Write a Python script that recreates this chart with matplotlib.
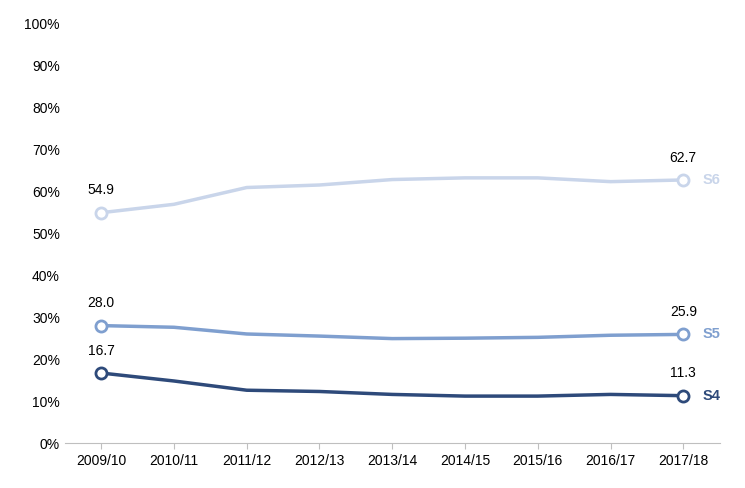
import matplotlib.pyplot as plt

years = ["2009/10","2010/11","2011/12","2012/13","2013/14","2014/15","2015/16","2016/17","2017/18"]
s6 = [54.9, 56.9, 60.9, 61.5, 62.8, 63.2, 63.2, 62.3, 62.7]
s5 = [28.0, 27.6, 26.0, 25.5, 24.9, 25.0, 25.2, 25.7, 25.9]
s4 = [16.7, 14.8, 12.6, 12.3, 11.6, 11.2, 11.2, 11.6, 11.3]
series = [("S6", s6, "#c9d5ea"), ("S5", s5, "#7f9fcf"), ("S4", s4, "#2e4a7a")]

plt.rcParams['font.family'] = ['Liberation Sans', 'DejaVu Sans']
fig = plt.figure(figsize=(7.45, 4.88), dpi=100)
ax = fig.add_axes([0.087, 0.092, 0.879, 0.86])
x = list(range(len(years)))
for name, vals, c in series:
    ax.plot(x, vals, color=c, lw=2.5, zorder=2)
    for i in (0, len(x)-1):
        ax.plot(x[i], vals[i], 'o', ms=8, mfc='white', mec=c, mew=2, zorder=3)
        ax.annotate(f"{vals[i]:.1f}", (x[i], vals[i]), xytext=(0, 11), textcoords='offset points',
                    ha='center', va='bottom', fontsize=10, color='black')
    ax.annotate(name, (x[-1], vals[-1]), xytext=(14, 0), textcoords='offset points',
                ha='left', va='center', fontsize=10.5, fontweight='bold', color=c)
ax.set_xlim(-0.5, len(x)-0.5)
ax.set_ylim(0, 100)
ax.set_yticks(range(0, 101, 10))
ax.set_yticklabels([f"{v}%" for v in range(0, 101, 10)])
ax.set_xticks(x)
ax.set_xticklabels(years)
ax.tick_params(labelsize=10, length=0)
ax.tick_params(axis='x', length=4, color='#bfbfbf')
for s in ['top', 'right', 'left']:
    ax.spines[s].set_visible(False)
ax.spines['bottom'].set_color('#bfbfbf')
fig.savefig("out.png")
